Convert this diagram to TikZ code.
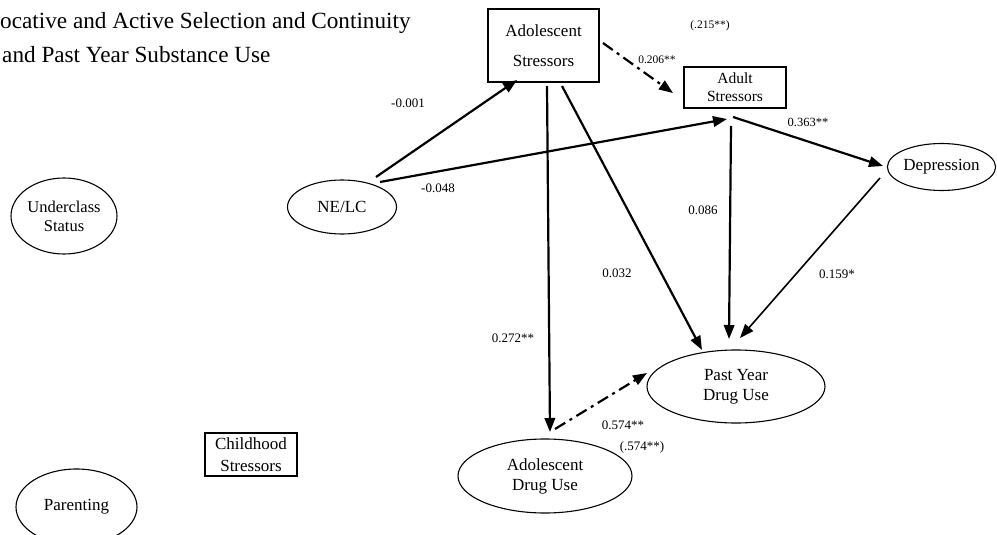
\documentclass[tikz,border=0pt]{standalone}
\usepackage{fontspec}
\setmainfont{Liberation Serif}
\usetikzlibrary{arrows.meta,shapes.geometric,calc}
\begin{document}
\begin{tikzpicture}[x=1pt,y=-1pt,
  box/.style={draw,line width=2pt,rectangle,inner sep=0pt,align=center},
  oval/.style={draw,line width=1.1pt,ellipse,inner sep=0pt,align=center},
  link/.style={line width=2.2pt,-{Triangle[length=14pt,width=10.5pt]}},
  dashdot/.style={link,dash pattern=on 12pt off 5pt on 3pt off 5pt},
  lab/.style={inner sep=0pt,font=\fontsize{13}{15}\selectfont},
  big/.style={font=\fontsize{17}{20}\selectfont}]

\useasboundingbox (0,0) rectangle (997,535);
\fill[white] (0,0) rectangle (997,535);

% title
\node[anchor=base west,inner sep=0pt,font=\fontsize{23.2}{28}\selectfont] (title1) at (0,29) {ocative and Active Selection and Continuity};
\node[anchor=base west,inner sep=0pt,font=\fontsize{23.2}{28}\selectfont] (title2) at (2,63) {and Past Year Substance Use};

% stressor boxes
\node[box,minimum width=111pt,minimum height=73pt,font=\fontsize{17}{29.4}\selectfont] (adolS) at (543.5,45.5) {Adolescent\\Stressors};
\node[box,minimum width=102pt,minimum height=41pt,font=\fontsize{15.5}{18}\selectfont] (adultS) at (735,87.5) {Adult\\Stressors};
\node[box,minimum width=92pt,minimum height=43pt,font=\fontsize{17}{22.4}\selectfont] (childS) at (251,454.5) {Childhood\\Stressors};

% latent / outcome ellipses
\node[oval,big,minimum width=109pt,minimum height=54pt] (nelc) at (342,207) {NE/LC};
\node[oval,minimum width=106pt,minimum height=76pt,font=\fontsize{16.5}{19}\selectfont] (under) at (64,216) {Underclass\\Status};
\node[oval,big,minimum width=108pt,minimum height=47pt] (depr) at (941.5,167) {Depression};
\node[oval,big,minimum width=178pt,minimum height=73pt] (pydu) at (736,386.5) {Past Year\\Drug Use};
\node[oval,big,minimum width=174pt,minimum height=74pt] (adu) at (545,476) {Adolescent\\Drug Use};
\node[oval,big,minimum width=121pt,minimum height=76pt] (par) at (76.5,507) {Parenting};

% paths
\draw[link] ($(nelc.center)+(34,-30)$) -- ($(adolS.center)+(-26.5,34.5)$);
\draw[link] ($(nelc.center)+(38,-25)$) -- ($(adultS.center)+(-8,31.5)$);
\draw[dashdot] ($(adolS.center)+(59.5,-2.5)$) -- ($(adultS.center)+(-62,5.5)$);
\draw[link] ($(adolS.center)+(3.5,40.5)$) -- ($(adu.center)+(5,-44)$);
\draw[link] ($(adolS.center)+(18.5,40.5)$) -- ($(pydu.center)+(-34,-36.5)$);
\draw[link] ($(adultS.center)+(-4,38.5)$) -- ($(pydu.center)+(-7,-47.5)$);
\draw[link] ($(adultS.center)+(-2,29.5)$) -- ($(depr.center)+(-58.5,-1)$);
\draw[link,line width=1.6pt] ($(depr.center)+(-61.5,11)$) -- ($(pydu.center)+(4,-48.5)$);
\draw[dashdot] ($(adu.center)+(10,-47)$) -- ($(pydu.center)+(-89,-13.5)$);

% coefficients
\node[lab,font=\fontsize{11.5}{14}\selectfont] (c215) at (710,26) {(.215**)};
\node[lab,font=\fontsize{11.5}{14}\selectfont] (c206) at (657,60) {0.206**};
\node[lab] (c001) at (408,103) {-0.001};
\node[lab] (c048) at (438,188) {-0.048};
\node[lab,font=\fontsize{12.5}{14}\selectfont] (c363) at (808,122) {0.363**};
\node[lab] (c086) at (703,210) {0.086};
\node[lab] (c032) at (617,273) {0.032};
\node[lab] (c159) at (837,274) {0.159*};
\node[lab] (c272) at (513,338) {0.272**};
\node[lab] (c574) at (623,425) {0.574**};
\node[lab] (c574b) at (642,447) {(.574**)};
\end{tikzpicture}
\end{document}
